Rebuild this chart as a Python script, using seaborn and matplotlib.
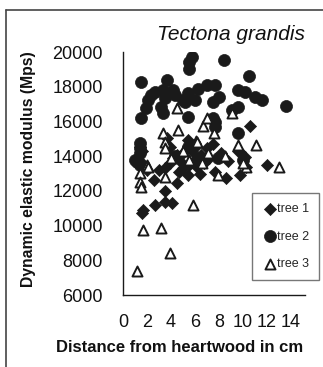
import matplotlib
matplotlib.use("Agg")
import matplotlib.pyplot as plt
import seaborn as sns
import pandas as pd
from matplotlib.lines import Line2D

# ---- data ----
tree1_x = [1.4, 1.4, 1.6, 1.6, 1.7, 2.0, 2.6, 2.7, 3.0, 3.5, 3.5, 3.5, 3.7, 3.9, 3.9, 4.1,
           4.2, 4.5, 4.5, 4.8, 5.0, 5.4, 5.4, 5.5, 5.8, 6.0, 6.2, 6.5, 6.8, 7.0, 7.2, 7.5,
           7.7, 8.0, 8.2, 8.6, 8.8, 9.6, 9.75, 9.75, 10.2, 10.3, 10.6, 12.0, 5.0, 6.4, 4.7]
tree1_y = [13700, 14530, 14300, 10720, 10900, 13200, 12620, 11180, 13200, 11990, 11360, 13300,
           15040, 14530, 13600, 11300, 13900, 14060, 12450, 13700, 14200, 14930, 12910, 13500,
           14300, 13800, 13370, 14100, 13600, 14500, 13900, 14700, 13080, 13950, 14200, 12740,
           13700, 14300, 14240, 12910, 13950, 13400, 15730, 13490, 13300, 13000, 13100]

tree2_x = [1.0, 1.2, 1.4, 1.4, 1.4, 1.4, 1.5, 1.5, 1.9, 2.1, 2.3, 2.7, 3.2, 3.3, 3.35, 3.5,
           3.7, 4.2, 4.3, 5.0, 5.2, 5.4, 5.4, 5.5, 5.5, 5.75, 6.0, 6.25, 7.0, 7.5, 7.7, 8.0,
           7.5, 7.7, 7.7, 8.4, 9.1, 9.6, 9.6, 10.2, 10.5, 11.0, 11.6, 13.6, 9.6, 5.4, 6.0,
           7.9, 10.0, 4.3, 6.3]
tree2_y = [13780, 13660, 13490, 14180, 14470, 14750, 16200, 18300, 16770, 17230, 17500, 17690,
           16830, 17800, 16500, 17350, 18380, 17800, 17500, 17230, 17100, 17630, 16250, 19050,
           19420, 19700, 17230, 17900, 18100, 17120, 18100, 17400, 16200, 15700, 16000, 19550,
           16650, 16830, 17800, 17700, 18600, 17400, 17250, 16900, 15330, 14530, 14640, 13890,
           13780, 14000, 13900]

tree3_x = [1.15, 1.4, 1.4, 1.5, 1.7, 2.0, 2.1, 3.2, 3.35, 3.5, 3.5, 3.5, 3.9, 4.5, 4.6, 5.85,
           6.1, 6.6, 6.7, 7.0, 7.1, 7.6, 7.9, 9.1, 9.6, 10.25, 11.1, 13.0, 5.0, 4.0, 8.5, 6.2,
           5.5, 10.0]
tree3_y = [7380, 13030, 12510, 12220, 9740, 13490, 13370, 9860, 15330, 14810, 14470, 12800,
           8420, 16770, 15500, 11180, 14870, 13600, 15730, 16200, 14180, 15330, 12910, 16480,
           14640, 13370, 14640, 13370, 14300, 13900, 14000, 14810, 13800, 13600]

series_names = ["tree 1", "tree 2", "tree 3"]
x_ticks = [0, 2, 4, 6, 8, 10, 12, 14]
y_ticks = [6000, 8000, 10000, 12000, 14000, 16000, 18000, 20000]

df = pd.concat([
    pd.DataFrame({"x": tree1_x, "y": tree1_y, "tree": series_names[0]}),
    pd.DataFrame({"x": tree2_x, "y": tree2_y, "tree": series_names[1]}),
    pd.DataFrame({"x": tree3_x, "y": tree3_y, "tree": series_names[2]}),
])

sns.set_style("white")
plt.rcParams["font.family"] = ["Liberation Sans", "DejaVu Sans"]

fig = plt.figure(figsize=(3.23, 3.67), dpi=100)
ax = fig.add_axes([0.381, 0.196, 0.563, 0.662])

ink = "#1a1a1a"
styles = {
    "tree 1": dict(marker="D", color=ink, edgecolor=ink, s=38, linewidth=0.5),
    "tree 2": dict(marker="o", color=ink, edgecolor=ink, s=75, linewidth=0.5),
    "tree 3": dict(marker="^", color="white", edgecolor=ink, s=52, linewidth=1.4),
}
for name in series_names:
    sub = df[df["tree"] == name]
    sns.scatterplot(data=sub, x="x", y="y", ax=ax, label=name, zorder=3, **styles[name])

ax.set_xlim(0, 15.2)
ax.set_ylim(6000, 20000)
ax.set_xticks(x_ticks)
ax.set_yticks(y_ticks)
ax.set_xticklabels([str(t) for t in x_ticks])
ax.set_yticklabels([str(t) for t in y_ticks])
for s in ["top", "right"]:
    ax.spines[s].set_visible(False)
for s in ["left", "bottom"]:
    ax.spines[s].set_color(ink)
    ax.spines[s].set_linewidth(1.0)
ax.tick_params(axis="both", direction="inout", length=7, width=1.0, color=ink,
               labelsize=13, labelcolor="#111111")
ax.tick_params(axis="y", pad=11)
ax.tick_params(axis="x", pad=10)
ax.set_xlabel("")
ax.set_ylabel("")

fig.text(0.557, 0.052, "Distance from heartwood in cm", ha="center", va="center",
         fontsize=12, fontweight="bold", color="#111111")
fig.text(0.087, 0.54, "Dynamic elastic modulus (Mps)", ha="center", va="center",
         rotation=90, fontsize=11.3, fontweight="bold", color="#111111")
fig.text(0.944, 0.905, "Tectona grandis", ha="right", va="center",
         fontsize=15, style="italic", color="#111111")

leg = ax.legend(loc="upper left", bbox_to_anchor=(252 / 323, 1 - 193 / 367),
                bbox_transform=fig.transFigure, frameon=True, fancybox=False,
                fontsize=9, handletextpad=0.0, labelspacing=1.25, borderpad=0.8,
                handlelength=1.2, borderaxespad=0)
leg.get_frame().set_edgecolor("#555555")
leg.get_frame().set_linewidth(1.0)

fig.add_artist(Line2D([6 / 323, 6 / 323], [0, 1 - 10 / 367], color="#444444", lw=1.2,
                      transform=fig.transFigure))
fig.add_artist(Line2D([6 / 323, 1], [1 - 10 / 367, 1 - 10 / 367], color="#444444", lw=1.2,
                      transform=fig.transFigure))

fig.savefig("out.png", dpi=100)
